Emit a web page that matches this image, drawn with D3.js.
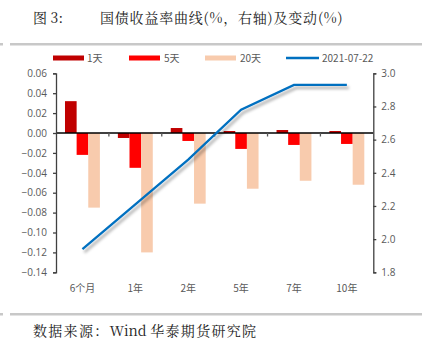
<!DOCTYPE html>
<html><head><meta charset="utf-8">
<script src="https://cdn.jsdelivr.net/npm/d3@7"></script>
<style>
html,body{margin:0;padding:0;background:#fff;}
svg{display:block;}
</style></head>
<body>
<svg id="c" width="427" height="347"></svg>
<script>
const categories = ["6个月","1年","2年","5年","7年","10年"];
const change1d  = [0.032, -0.005, 0.005, 0.002, 0.003, 0.002];
const change5d  = [-0.022, -0.035, -0.008, -0.016, -0.012, -0.011];
const change20d = [-0.075, -0.120, -0.071, -0.056, -0.048, -0.052];
const yield0722 = [1.94, 2.21, 2.48, 2.78, 2.93, 2.93];
const leftTicks = [0.06,0.04,0.02,0.00,-0.02,-0.04,-0.06,-0.08,-0.10,-0.12,-0.14];
const rightTicks = [3.0,2.8,2.6,2.4,2.2,2.0,1.8];
const seriesNames = ["1天","5天","20天","2021-07-22"];
const colors = ["#C00000","#FF0000","#F8CBAD","#0070C0"];

const svg = d3.select("#c");
const defs = svg.append("defs");
const f = defs.append("filter").attr("id","sh").attr("x","-10%").attr("y","-10%").attr("width","130%").attr("height","140%");
f.append("feDropShadow").attr("dx",2).attr("dy",3).attr("stdDeviation",1.6).attr("flood-color","#000").attr("flood-opacity",0.35);

const serif = "'Noto Serif CJK SC','Noto Sans CJK SC',serif";
const sans = "'Noto Sans CJK SC','Noto Sans',sans-serif";
const numFont = "'Open Sans','Noto Sans',sans-serif";

// title
svg.append("text").attr("x",33).attr("y",23).attr("font-family",serif).attr("font-size",14).attr("fill","#222").text("图 3:");
svg.append("text").attr("x",100).attr("y",23).attr("font-family",serif).attr("font-size",14).attr("letter-spacing",0.8).attr("fill","#222").text("国债收益率曲线(%，右轴)及变动(%)");
// separators
svg.append("rect").attr("x",10).attr("y",43).attr("width",412).attr("height",2.5).attr("fill","#C8C8C8");
svg.append("rect").attr("x",0).attr("y",43).attr("width",3).attr("height",2.5).attr("fill","#C8C8C8");
svg.append("rect").attr("x",10).attr("y",313).attr("width",412).attr("height",2.5).attr("fill","#C8C8C8");
svg.append("rect").attr("x",0).attr("y",313).attr("width",3).attr("height",2.5).attr("fill","#C8C8C8");
// source
const src = svg.append("text").attr("x",33).attr("y",336).attr("font-family",serif).attr("font-size",14).attr("fill","#222");
src.append("tspan").attr("letter-spacing",1.3).text("数据来源：");
src.append("tspan").text("Wind ");
src.append("tspan").attr("letter-spacing",1.3).text("华泰期货研究院");

// scales
const x0 = 56, x1 = 373.3;
const x = d3.scaleBand().domain(categories).range([x0,x1]).padding(0);
const yL = d3.scaleLinear().domain([-0.14,0.06]).range([272.3,73.3]);
const yR = d3.scaleLinear().domain([1.8,3.0]).range([272.3,73.3]);
const bw = x.bandwidth();
const inner = d3.scaleBand().domain([0,1,2]).range([bw*0.17, bw*0.83]).padding(0);

// bars
const bars = [change1d, change5d, change20d];
bars.forEach((arr,si)=>{
  svg.append("g").selectAll("rect").data(arr).join("rect")
    .attr("x",(d,i)=>x(categories[i])+inner(si))
    .attr("width",inner.bandwidth())
    .attr("y",d=>yL(Math.max(0,d)))
    .attr("height",d=>Math.abs(yL(d)-yL(0)))
    .attr("fill",colors[si]);
});

// zero axis
svg.append("line").attr("x1",x0).attr("x2",x1).attr("y1",yL(0)).attr("y2",yL(0)).attr("stroke","#000").attr("stroke-width",1.3);
svg.append("g").selectAll("line").data(d3.range(1,categories.length)).join("line")
  .attr("x1",i=>x0+i*bw).attr("x2",i=>x0+i*bw).attr("y1",yL(0)).attr("y2",yL(0)+3.5)
  .attr("stroke","#555").attr("stroke-width",1.3);

// category labels
svg.append("g").selectAll("text").data(categories).join("text")
  .attr("x",d=>x(d)+bw/2).attr("y",292).attr("text-anchor","middle")
  .attr("font-family",sans).attr("font-size",10).attr("fill","#595959").text(d=>d);

// left axis
const gl = svg.append("g").attr("transform",`translate(${x0},0)`)
  .call(d3.axisLeft(yL).tickValues(leftTicks).tickSize(3).tickPadding(6).tickFormat(d3.format(".2f")));
gl.select(".domain").attr("stroke","#404040").attr("stroke-width",1.3);
gl.selectAll(".tick line").attr("stroke","#404040").attr("stroke-width",1.3);
gl.selectAll("text").attr("font-family",numFont).attr("font-size",10).attr("fill","#595959");

// right axis
const gr = svg.append("g").attr("transform",`translate(${x1},0)`)
  .call(d3.axisRight(yR).tickValues(rightTicks).tickSize(3).tickPadding(5).tickFormat(d3.format(".1f")));
gr.select(".domain").attr("stroke","#404040").attr("stroke-width",1.3);
gr.selectAll(".tick line").attr("stroke","#404040").attr("stroke-width",1.3);
gr.selectAll("text").attr("font-family",numFont).attr("font-size",10).attr("fill","#595959");

// line
const line = d3.line().x((d,i)=>x(categories[i])+bw/2).y(d=>yR(d));
svg.append("path").datum(yield0722).attr("d",line).attr("fill","none")
  .attr("stroke",colors[3]).attr("stroke-width",2.3).attr("filter","url(#sh)");

// legend
const leg = [{x:53,t:53+34},{x:129,t:129+35},{x:205,t:205+35},{x:286,t:286+36}];
leg.forEach((l,i)=>{
  if(i<3){
    svg.append("rect").attr("x",l.x).attr("y",55.5).attr("width",31).attr("height",5).attr("fill",colors[i]);
  } else {
    svg.append("line").attr("x1",l.x).attr("x2",l.x+33).attr("y1",58).attr("y2",58).attr("stroke",colors[3]).attr("stroke-width",2.3);
  }
  svg.append("text").attr("x",l.t).attr("y",61.5).attr("font-family",sans).attr("font-size",10).attr("fill","#595959").text(seriesNames[i]);
});
</script>
</body></html>
